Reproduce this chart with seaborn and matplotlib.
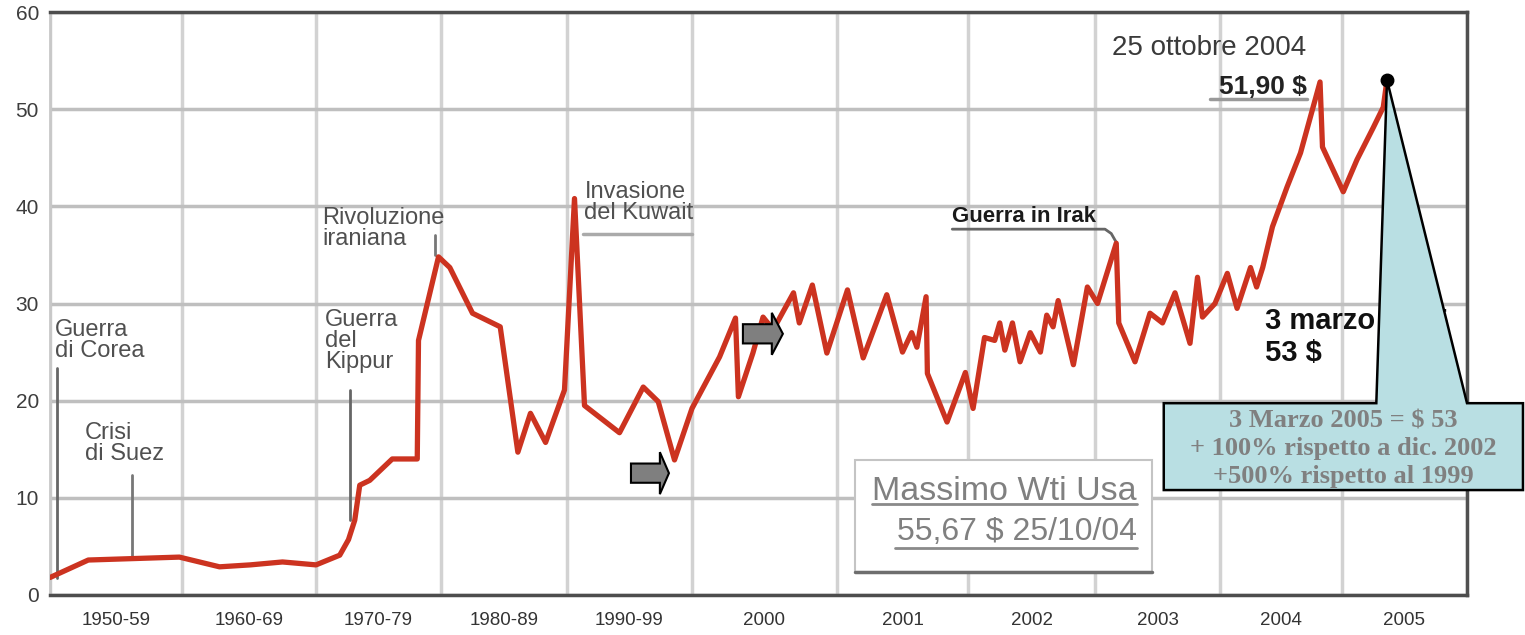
import numpy as np
import matplotlib
matplotlib.use("Agg")
import matplotlib.pyplot as plt
import matplotlib.patches as mpatches
import seaborn as sns

# === DATA ===
# periods along the x axis, one band each (band boundaries at integer positions)
periods = ["1950-59", "1960-69", "1970-79", "1980-89", "1990-99",
           "2000", "2001", "2002", "2003", "2004", "2005"]
y_ticks = [0, 10, 20, 30, 40, 50, 60]

# oil price path: position on the period axis, $ per barrel
pos = [0.00, 0.29, 0.98, 1.28, 1.51, 1.75, 2.00, 2.19, 2.26, 2.31, 2.35, 2.43, 2.61, 2.81, 2.82, 2.98,
       3.07, 3.25, 3.47, 3.61, 3.71, 3.83, 3.98,
       4.06, 4.14, 4.42, 4.61, 4.73, 4.86, 5.00,
       5.19, 5.30, 5.32, 5.42, 5.49, 5.56, 5.70, 5.74, 5.83, 5.93,
       6.08, 6.20, 6.38, 6.50, 6.57, 6.61, 6.68, 6.69, 6.84, 6.98,
       7.04, 7.13, 7.21, 7.25, 7.29, 7.35, 7.41, 7.49, 7.57, 7.62, 7.67, 7.71, 7.83, 7.94,
       8.02, 8.17, 8.19, 8.32, 8.44, 8.54, 8.64, 8.76, 8.82, 8.86, 8.96,
       9.06, 9.14, 9.25, 9.30, 9.35, 9.43, 9.55, 9.66, 9.82, 9.84,
       10.01, 10.12, 10.25, 10.33, 10.36]
price = [1.8, 3.6, 3.9, 2.9, 3.1, 3.4, 3.1, 4.1, 5.7, 7.7, 11.3, 11.8, 14.0, 14.0, 26.2, 34.8,
         33.7, 29.0, 27.6, 14.7, 18.7, 15.7, 21.1,
         40.8, 19.5, 16.7, 21.4, 19.9, 13.9, 19.2,
         24.5, 28.5, 20.4, 24.9, 28.6, 27.3, 31.1, 28.0, 31.9, 24.9,
         31.4, 24.4, 30.9, 25.0, 27.0, 25.5, 30.7, 22.8, 17.8, 22.9,
         19.2, 26.5, 26.2, 28.0, 25.2, 28.0, 24.0, 27.0, 25.0, 28.8, 27.6, 30.3, 23.7, 31.7,
         30.0, 36.2, 28.0, 24.0, 29.0, 28.0, 31.1, 25.9, 32.7, 28.6, 30.0,
         33.1, 29.5, 33.7, 31.7, 33.7, 37.9, 42.0, 45.5, 52.8, 46.1,
         41.5, 44.8, 48.1, 50.2, 53.0]

callout_lines = ["3 Marzo 2005 = $ 53", "+ 100% rispetto a dic. 2002", "+500% rispetto al 1999"]

# === STYLE ===
sns.set_theme(style="white")
SANS = ["Liberation Sans", "DejaVu Sans"]
SERIF = ["Liberation Serif", "DejaVu Serif"]
plt.rcParams["font.family"] = SANS

RED = "#cc3320"

# the period bands are not equally wide in the original
band_widths = [132, 134, 125, 126, 125, 145, 131, 127, 125, 122, 125]
edges_idx = np.arange(len(band_widths) + 1)
edges_px = np.concatenate([[0], np.cumsum(band_widths)]).astype(float)


def fwd(x):
    return np.interp(x, edges_idx, edges_px)


def inv(x):
    return np.interp(x, edges_px, edges_idx)


fig = plt.figure(figsize=(15.25, 6.35), dpi=100)
ax = fig.add_axes([50 / 1525, 40 / 635, 1417 / 1525, 583 / 635])
ax.set_xscale("function", functions=(fwd, inv))
ax.set_xlim(0, len(periods))
ax.set_ylim(0, 60)

# grid + frame
ax.set_axisbelow(True)
ax.set_xticks(edges_idx)
ax.set_xticklabels([])
ax.set_xticks(np.arange(len(periods)) + 0.5, minor=True)
ax.set_xticklabels(periods, minor=True, fontsize=13.5, color="#333333")
ax.set_yticks(y_ticks)
ax.set_yticklabels([str(v) for v in y_ticks], fontsize=15, color="#3d3d3d")
ax.tick_params(axis="both", which="both", length=0)
ax.tick_params(axis="x", which="minor", pad=12)
ax.tick_params(axis="y", pad=8)
ax.xaxis.grid(True, which="major", color="#d2d2d2", lw=2.5)
ax.yaxis.grid(True, color="#bfbfbf", lw=2.5)
for side, col, lw in [("top", "#4d4d4d", 2.5), ("bottom", "#4d4d4d", 2.5),
                      ("left", "#c8c8c8", 2.0), ("right", "#505050", 2.5)]:
    ax.spines[side].set_color(col)
    ax.spines[side].set_linewidth(lw)

# price line
sns.lineplot(x=pos, y=price, ax=ax, color=RED, linewidth=3.8, sort=False,
             estimator=None, zorder=3)

# === EVENT LABELS ===
ev = dict(fontsize=17, color="#505050", ha="left", va="top", linespacing=0.92, zorder=4)
ax.text(0.04, 28.4, "Guerra\ndi Corea", **ev)
ax.plot([0.053, 0.053], [1.8, 23.4], color="#666666", lw=2, zorder=2)
ax.text(0.265, 17.8, "Crisi\ndi Suez", **ev)
ax.plot([0.62, 0.62], [3.8, 12.3], color="#777777", lw=2, zorder=2)
ax.text(2.07, 29.4, "Guerra\ndel\nKippur", **ev)
ax.plot([2.27, 2.27], [7.7, 21.1], color="#666666", lw=2, zorder=2)
ax.text(2.05, 39.9, "Rivoluzione\niraniana", **ev)
ax.plot([2.95, 2.95], [35.0, 37.0], color="#777777", lw=2, zorder=2)
ax.text(4.14, 42.6, "Invasione\ndel Kuwait", **ev)
ax.plot([4.13, 5.0], [37.2, 37.2], color="#aaaaaa", lw=2.5, zorder=2)
ax.text(6.88, 40.0, "Guerra in Irak", fontsize=16, fontweight="bold", color="#1a1a1a",
        ha="left", va="top", zorder=4)
ax.plot([6.88, 8.08, 8.13, 8.17], [37.65, 37.65, 37.2, 36.3], color="#666666", lw=2, zorder=2)

ax.text(9.71, 57.6, "25 ottobre 2004", fontsize=20, color="#3a3a3a", ha="right", va="top")
ax.text(9.71, 51.6, "51,90 $", fontsize=19, fontweight="bold", color="#222222",
        ha="right", va="baseline")
ax.plot([8.92, 9.71], [51.0, 51.0], color="#999999", lw=2.5)

ax.text(9.37, 29.6, "3 marzo 2005\n53 $", fontsize=21, fontweight="bold", color="#111111",
        ha="left", va="top", linespacing=1.15, zorder=4)

# gray block arrows
for x0, y0, dx, hl in [(0.410, 0.209, 0.0268, 0.0064), (0.489, 0.448, 0.0282, 0.0078)]:
    ax.add_patch(mpatches.FancyArrow(x0, y0, dx, 0, width=0.033, head_width=0.072,
                                     head_length=hl, length_includes_head=True,
                                     transform=ax.transAxes, facecolor="#7f7f7f",
                                     edgecolor="black", lw=1.5, zorder=5))

# "Massimo Wti Usa" box
ax.add_patch(mpatches.Rectangle((0.568, 0.0395), 0.210, 0.192, transform=ax.transAxes,
                                facecolor="white", edgecolor="#c4c4c4", lw=1.5, zorder=4))
ax.plot([0.568, 0.778], [0.0395, 0.0395], transform=ax.transAxes, color="#6e6e6e", lw=2.5, zorder=5)
ax.text(0.767, 0.163, "Massimo Wti Usa", transform=ax.transAxes, fontsize=24.5,
        color="#808080", ha="right", va="baseline", zorder=5)
ax.plot([0.580, 0.767], [0.156, 0.156], transform=ax.transAxes, color="#8a8a8a", lw=2, zorder=5)
ax.text(0.767, 0.0943, "55,67 $ 25/10/04", transform=ax.transAxes, fontsize=23,
        color="#808080", ha="right", va="baseline", zorder=5)
ax.plot([0.596, 0.767], [0.0806, 0.0806], transform=ax.transAxes, color="#8a8a8a", lw=2, zorder=5)

# === CALLOUT ===
ax.plot(pos[-1], price[-1], "o", color="black", markersize=9, zorder=7)
apex = ax.transAxes.inverted().transform(ax.transData.transform((pos[-1], price[-1])))
bx0, bx1, by0, by1 = 0.786, 1.0395, 0.180, 0.329
poly = [(bx0, by0), (bx0, by1), (0.936, by1), tuple(apex), (1.0, by1), (bx1, by1), (bx1, by0)]
ax.add_patch(mpatches.Polygon(poly, closed=True, transform=ax.transAxes, facecolor="#b9dfe3",
                              edgecolor="black", lw=1.8, clip_on=False, zorder=6))
ax.text((bx0 + bx1) / 2, (by0 + by1) / 2 - 0.004, "\n".join(callout_lines),
        transform=ax.transAxes, family=SERIF, fontweight="bold", fontsize=19,
        color="#808080", ha="center", va="center", linespacing=1.28, zorder=7, clip_on=False)

fig.savefig("out.png", dpi=100)
